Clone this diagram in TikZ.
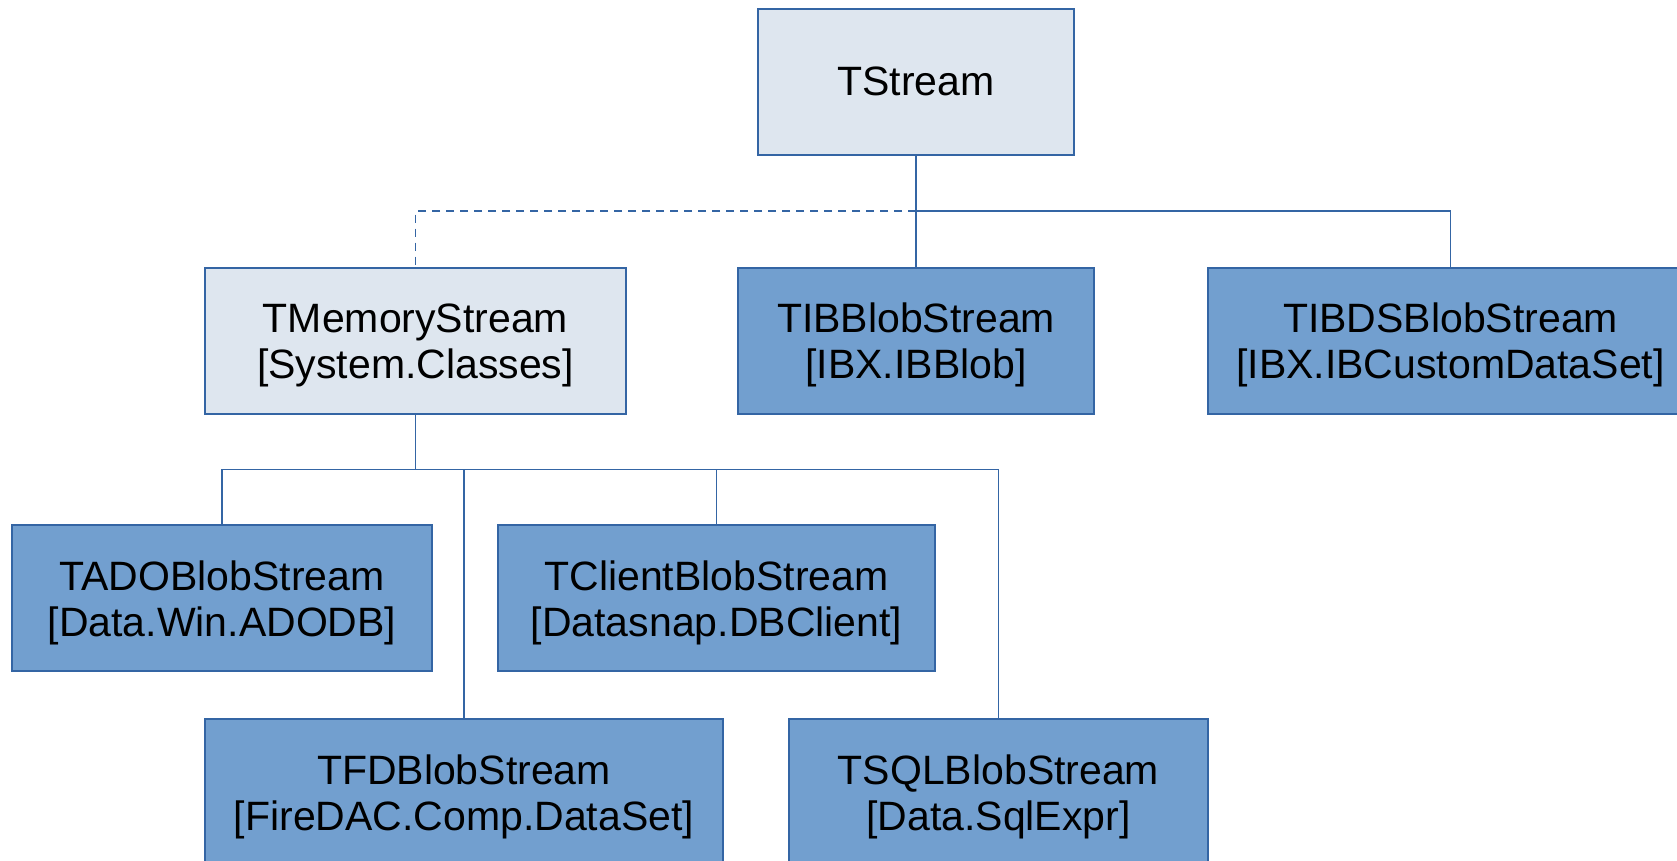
\documentclass[tikz,border=0pt]{standalone}
\usepackage{fontspec}
\setmainfont{Liberation Sans}
\usetikzlibrary{positioning,calc}
\definecolor{edge}{HTML}{3465A4}
\definecolor{lightfill}{HTML}{DEE6EF}
\definecolor{darkfill}{HTML}{729FCF}
\newcommand{\cls}[2]{\rule{0pt}{39pt}#1\\{}[#2]}

\begin{document}
\begin{tikzpicture}[x=1pt, y=-1pt,
    box/.style={draw=edge, line width=2pt, minimum height=146pt, align=center, inner sep=0pt},
    light/.style={box, fill=lightfill},
    dark/.style={box, fill=darkfill},
    link/.style={draw=edge, line width=1.5pt},
    font={\fontsize{41}{46}\selectfont}]
    \useasboundingbox (0,0) rectangle (1677,860);
    \clip (0,0) rectangle (1677,860);

    \node[light, minimum width=316pt] (ts) at (916,81.5) {TStream};
    \node[dark, minimum width=356pt, below=111pt] at (ts.south) (ibb) {\cls{TIBBlobStream}{IBX.IBBlob}};
    \node[light, minimum width=421pt, left=110pt] at (ibb.west) (mem) {\cls{TMemoryStream}{System.Classes}};
    \node[dark, minimum width=485pt, right=112pt] at (ibb.east) (ibds) {\cls{TIBDSBlobStream}{IBX.IBCustomDataSet}};

    \node[dark, minimum width=420pt] (ado) at (222,598) {\cls{TADOBlobStream}{Data.Win.ADODB}};
    \node[dark, minimum width=437pt, right=64pt] at (ado.east) (cli) {\cls{TClientBlobStream}{Datasnap.DBClient}};
    \node[dark, minimum width=518pt] (fd) at (464,792) {\cls{TFDBlobStream}{FireDAC.Comp.DataSet}};
    \node[dark, minimum width=419pt, right=64pt] at (fd.east) (sql) {\cls{TSQLBlobStream}{Data.SqlExpr}};

    % upper level
    \coordinate (top bus) at ($(ts.south)!.5!(ibb.north)$);
    \draw[link] (ts.south) -- (ibb.north);
    \draw[link] (top bus) -| (ibds.north);
    \draw[link, dash pattern=on 8pt off 6pt] (top bus) -| (mem.north);

    % lower level
    \coordinate (mem bus) at ($(mem.south)!.5!(mem.south |- ado.north)$);
    \draw[link] (mem.south) -- (mem bus) -| (ado.north);
    \foreach \n in {cli,fd,sql}
      \draw[link] (mem bus) -| (\n.north);
\end{tikzpicture}
\end{document}
